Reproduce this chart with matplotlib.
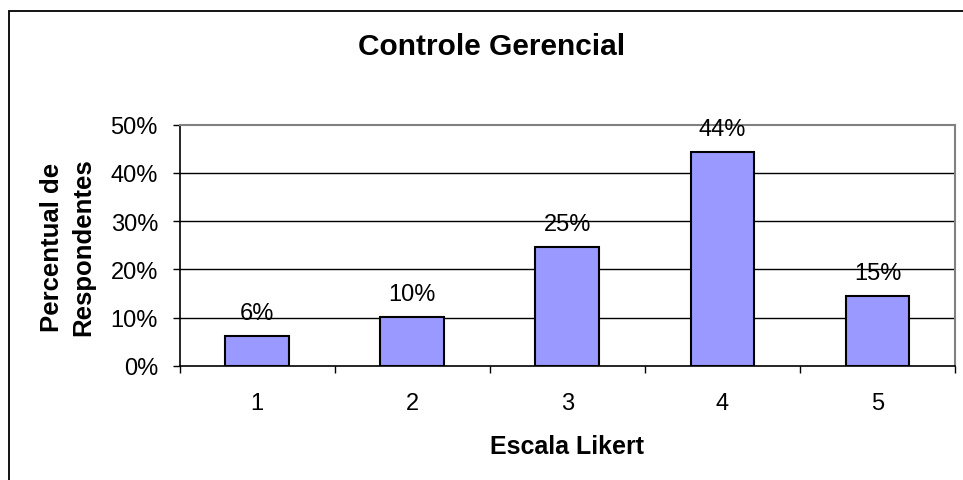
import matplotlib
matplotlib.use("Agg")
import matplotlib.pyplot as plt
from matplotlib.patches import Rectangle
from matplotlib.ticker import FixedLocator, PercentFormatter

categories = ["1", "2", "3", "4", "5"]
values = [6.3, 10.1, 24.6, 44.3, 14.5]
labels = ["6%", "10%", "25%", "44%", "15%"]
yticks = [0, 10, 20, 30, 40, 50]

plt.rcParams['font.family'] = ['Liberation Sans', 'DejaVu Sans']

W, H = 963, 481
fig = plt.figure(figsize=(W / 100, H / 100), dpi=100)
fig.patch.set_facecolor('white')

# outer chart border
fig.patches.append(Rectangle((8.5 / W, -0.1), 2.0, (H - 12) / H + 0.1,
                             transform=fig.transFigure, fill=False,
                             edgecolor='black', linewidth=1.3))

left, right, top, bottom = 179.5, 955, 125.7, 367
ax = fig.add_axes([left / W, (H - bottom) / H, (right - left) / W, (bottom - top) / H])

x = list(range(len(categories)))
ax.bar(x, values, width=0.41, color='#9999FF', edgecolor='black', linewidth=1.5, zorder=3)

ax.set_xlim(-0.5, len(categories) - 0.5)
ax.set_ylim(0, 50)
ax.yaxis.set_major_locator(FixedLocator(yticks))
ax.yaxis.set_major_formatter(PercentFormatter(decimals=0))
ax.set_xticks(x)
ax.set_xticklabels(categories)
ax.xaxis.set_minor_locator(FixedLocator([i - 0.5 for i in range(len(categories) + 1)]))
ax.tick_params(axis='x', which='major', length=0, pad=19, labelsize=17)
ax.tick_params(axis='x', which='minor', length=5, width=1, color='black')
ax.tick_params(axis='y', length=5, width=1, labelsize=17, pad=10.5)

for yv in yticks[1:-1]:
    ax.axhline(yv, color='black', linewidth=1, zorder=1)

for s in ['top', 'right']:
    ax.spines[s].set_color('#808080')
    ax.spines[s].set_linewidth(1.5)
for s in ['left', 'bottom']:
    ax.spines[s].set_color('black')
    ax.spines[s].set_linewidth(1.2)

for xi, v, lab in zip(x, values, labels):
    ax.annotate(lab, (xi, v), xytext=(0, 17), textcoords='offset pixels',
                ha='center', va='baseline', fontsize=17, zorder=4, annotation_clip=False)

fig.text(492 / W, 1 - 47 / H, "Controle Gerencial", ha='center', va='center',
         fontsize=21.5, fontweight='bold')
fig.text(567 / W, 1 - 447 / H, "Escala Likert", ha='center', va='center',
         fontsize=18, fontweight='bold')
fig.text(52 / W, 1 - 247 / H, "Percentual de", ha='center', va='center',
         rotation=90, fontsize=18.5, fontweight='bold')
fig.text(83 / W, 1 - 247 / H, "Respondentes", ha='center', va='center',
         rotation=90, fontsize=18.5, fontweight='bold')

fig.savefig('out.png', dpi=100)
